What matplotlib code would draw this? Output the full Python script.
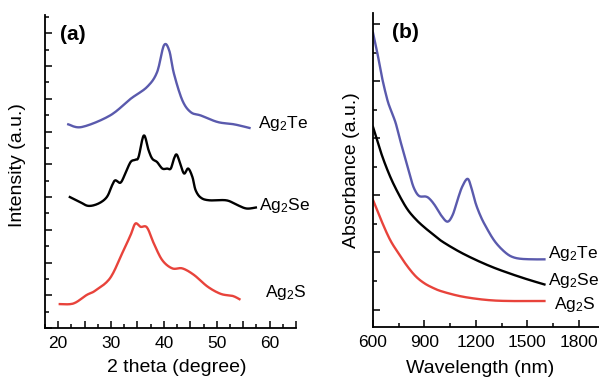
import numpy as np
import matplotlib
matplotlib.use('Agg')
import matplotlib.pyplot as plt
from matplotlib.ticker import MultipleLocator, FuncFormatter

plt.rcParams['font.family'] = ['Liberation Sans', 'DejaVu Sans']
plt.rcParams['mathtext.fontset'] = 'custom'
plt.rcParams['mathtext.rm'] = 'Liberation Sans'
plt.rcParams['mathtext.default'] = 'regular'

# (a) XRD patterns, 2 theta (degree) vs intensity (offset, a.u.)
te_2theta = [21.9, 24.5, 29.8, 33.7, 36.8, 38.7, 40.0, 41.0, 41.9, 43.5, 45.1, 47.0, 50.2, 53.3, 56.2]
te_int = [6.22, 6.14, 6.49, 7.00, 7.36, 7.81, 8.63, 8.48, 7.77, 6.95, 6.59, 6.49, 6.29, 6.22, 6.11]

se_2theta = [22.2, 24.1, 25.7, 27.6, 29.2, 30.2, 30.8, 31.8, 32.7, 33.7, 34.6, 35.2, 36.2, 37.1,
             37.8, 38.7, 39.7, 40.6, 41.3, 41.9, 42.4, 43.0, 43.8, 44.6, 45.4, 46.0, 47.0, 48.6,
             51.8, 53.7, 55.6, 57.4]
se_int = [4.00, 3.85, 3.73, 3.80, 4.00, 4.36, 4.51, 4.44, 4.72, 5.07, 5.14, 5.22, 5.88, 5.43,
          5.17, 5.07, 4.87, 4.87, 4.87, 5.17, 5.30, 5.07, 4.72, 4.87, 4.61, 4.21, 3.98, 3.90,
          3.90, 3.77, 3.65, 3.68]

s_2theta = [20.3, 22.9, 25.4, 27.0, 29.8, 32.1, 33.7, 34.6, 35.6, 36.8, 38.1, 39.7, 41.6, 43.5,
            45.7, 48.3, 50.8, 53.0, 54.3]
s_int = [0.73, 0.75, 1.01, 1.14, 1.52, 2.28, 2.84, 3.19, 3.09, 3.07, 2.58, 2.07, 1.82, 1.82,
         1.62, 1.26, 1.04, 0.98, 0.88]

# (b) absorption spectra, wavelength (nm) vs absorbance (a.u.)
te_wl = [600, 625, 650, 684, 710, 733, 760, 791, 815, 840, 869, 908, 930, 960, 1000, 1035,
         1065, 1093, 1120, 1152, 1175, 1200, 1230, 1259, 1300, 1337, 1380, 1415, 1460, 1532, 1600]
te_abs = [4.85, 4.50, 4.10, 3.67, 3.45, 3.26, 2.95, 2.62, 2.35, 2.12, 1.99, 1.98, 1.94, 1.83,
          1.64, 1.54, 1.66, 1.92, 2.15, 2.29, 2.12, 1.85, 1.62, 1.45, 1.24, 1.10, 0.98, 0.92,
          0.89, 0.88, 0.88]

se_wl = [600, 650, 700, 750, 800, 850, 900, 950, 1000, 1100, 1200, 1300, 1400, 1500, 1600]
se_abs = [3.20, 2.72, 2.33, 2.02, 1.76, 1.58, 1.44, 1.32, 1.20, 1.02, 0.87, 0.74, 0.63, 0.53, 0.44]

s_wl = [600, 650, 700, 750, 800, 850, 900, 950, 1000, 1100, 1200, 1300, 1400, 1500, 1600]
s_abs = [1.92, 1.55, 1.22, 0.98, 0.76, 0.58, 0.46, 0.38, 0.32, 0.24, 0.19, 0.16, 0.15, 0.15, 0.15]

labels = ['Ag$_2$Te', 'Ag$_2$Se', 'Ag$_2$S']

blue = '#5a5aad'
red = '#e8433b'


def smooth(x, y):
    # Catmull-Rom curve through the read points
    P = np.vstack([np.array(x, float), np.array(y, float)]).T
    P = np.vstack([P[0], P, P[-1]])
    out = []
    for i in range(1, len(P) - 2):
        p0, p1, p2, p3 = P[i - 1], P[i], P[i + 1], P[i + 2]
        for s in np.linspace(0, 1, 12, endpoint=False):
            out.append(0.5 * ((2 * p1) + (-p0 + p2) * s + (2 * p0 - 5 * p1 + 4 * p2 - p3) * s ** 2
                              + (-p0 + 3 * p1 - 3 * p2 + p3) * s ** 3))
    out.append(P[-2])
    out = np.array(out)
    return out[:, 0], out[:, 1]


fig = plt.figure(figsize=(5.99, 3.78), dpi=100)
ax = fig.add_axes([45 / 599, 50 / 378, 251 / 599, 313 / 378])
bx = fig.add_axes([373 / 599, 51.3 / 378, 240 / 599, 313.4 / 378])

lw = 1.7
for x, y, c in [(te_2theta, te_int, blue), (se_2theta, se_int, 'black'), (s_2theta, s_int, red)]:
    ax.plot(*smooth(x, y), color=c, lw=lw)
ax.set_xlim(17.5, 65)
ax.set_ylim(0, 9.56)

for x, y, c in [(te_wl, te_abs, blue), (se_wl, se_abs, 'black'), (s_wl, s_abs, red)]:
    bx.plot(*smooth(x, y), color=c, lw=lw)
bx.set_xlim(600, 2000)
bx.set_ylim(-0.3, 5.19)

for a in (ax, bx):
    a.spines[['right', 'top']].set_visible(False)
    a.spines[['left', 'bottom']].set_linewidth(1.3)
    a.tick_params(which='both', direction='in', width=1.1, labelsize=12.5, pad=6)
    a.tick_params(which='major', length=5)
    a.tick_params(which='minor', length=3)
    a.yaxis.set_major_formatter(FuncFormatter(lambda v, p: ''))
    a.yaxis.set_major_locator(MultipleLocator(1))
    a.yaxis.set_minor_locator(MultipleLocator(0.5))

ax.xaxis.set_major_locator(MultipleLocator(5))
ax.xaxis.set_minor_locator(MultipleLocator(2.5))
ax.xaxis.set_major_formatter(FuncFormatter(lambda v, p: '%d' % v if v % 10 == 0 and v < 65 else ''))
bx.xaxis.set_major_locator(MultipleLocator(300))
bx.xaxis.set_minor_locator(MultipleLocator(150))

ax.set_xlabel('2 theta (degree)', fontsize=14)
ax.xaxis.set_label_coords(0.526, -0.10)
ax.set_ylabel('Intensity (a.u.)', fontsize=14)
ax.yaxis.set_label_coords(-0.076, 0.52)
bx.set_xlabel('Wavelength (nm)', fontsize=14)
bx.xaxis.set_label_coords(0.448, -0.105)
bx.set_ylabel('Absorbance (a.u.)', fontsize=14)
bx.yaxis.set_label_coords(-0.054, 0.5)

ax.text(0.06, 0.92, '(a)', transform=ax.transAxes, fontsize=15, fontweight='bold')
bx.text(0.08, 0.92, '(b)', transform=bx.transAxes, fontsize=15, fontweight='bold')

# sample labels
for lab, (xx, yy) in zip(labels, [(258, 128), (259, 210), (265, 297)]):
    fig.text(xx / 599, 1 - yy / 378, lab, fontsize=12.5)
for lab, (xx, yy) in zip(labels, [(548, 258), (548, 285), (554, 309)]):
    fig.text(xx / 599, 1 - yy / 378, lab, fontsize=12.5)

fig.savefig('out.png', dpi=100)
